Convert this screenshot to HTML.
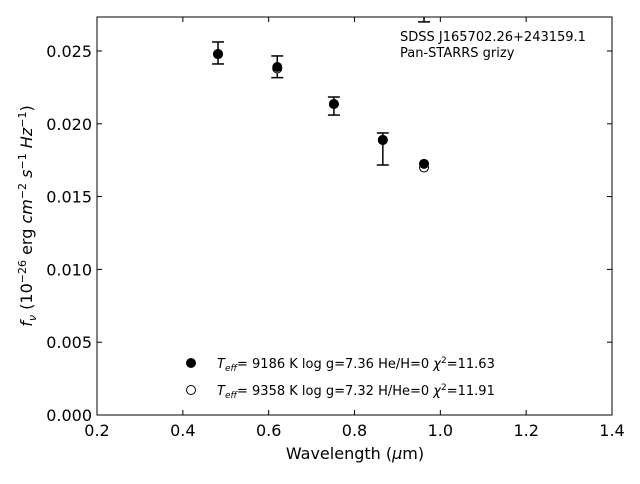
<!DOCTYPE html>
<html><head><meta charset="utf-8"><style>
body{margin:0;background:#fff;font-family:"DejaVu Sans","Liberation Sans",sans-serif}
</style></head><body>
<svg id="c" width="640" height="480" xmlns="http://www.w3.org/2000/svg" font-family="DejaVu Sans, Liberation Sans, sans-serif"></svg>
<script>
const bands=[0.482,0.620,0.752,0.866,0.962];
const obsLow=[0.02411,0.02317,0.02060,0.01717,0.02700];
const obsHigh=[0.02562,0.02466,0.02184,0.01937,0.02900];
const modelHe=[0.02479,0.02390,0.02136,0.01889,0.01725];
const modelH=[0.02479,0.02380,0.02136,0.01889,0.01700];
const xTicks=[0.2,0.4,0.6,0.8,1.0,1.2,1.4];
const yTicks=[0,0.005,0.010,0.015,0.020,0.025];
const L=97,R=612,T=17,B=415;
const X=v=>L+(v-0.2)/1.2*(R-L);
const Y=v=>B-v*14560;
const s=document.getElementById('c');
const NS='http://www.w3.org/2000/svg';
function mk(t,a,p){const e=document.createElementNS(NS,t);for(const k in a)e.setAttribute(k,a[k]);(p||s).appendChild(e);return e;}
const defs=mk('defs',{});const cp=mk('clipPath',{id:'cl'},defs);mk('rect',{x:L,y:T,width:R-L,height:B-T},cp);
const g=mk('g',{'clip-path':'url(#cl)'});
bands.forEach((b,i)=>{
 const x=X(b),y1=Y(obsLow[i]),y2=Y(obsHigh[i]);
 const e=mk('g',{},g);
 
 
 mk('line',{x1:x,x2:x,y1:y1,y2:y2,stroke:'#000','stroke-width':1.5},e);
 mk('line',{x1:x-6,x2:x+6,y1:y1,y2:y1,stroke:'#000','stroke-width':1.5},e);
 mk('line',{x1:x-6,x2:x+6,y1:y2,y2:y2,stroke:'#000','stroke-width':1.5},e);
});
bands.forEach((b,i)=>{
 const o=mk('circle',{cx:X(b),cy:Y(modelH[i]),r:4.5,fill:'#fff',stroke:'#000','stroke-width':1},g);
 
 
 const f=mk('circle',{cx:X(b),cy:Y(modelHe[i]),r:5,fill:'#000'},g);
 
 
});
const fr=mk('rect',{x:L,y:T,width:R-L,height:B-T,fill:'none',stroke:'#000','stroke-width':1});

xTicks.forEach(v=>{const x=X(v);
 mk('line',{x1:x,x2:x,y1:B,y2:B-5,stroke:'#000'});mk('line',{x1:x,x2:x,y1:T,y2:T+5,stroke:'#000'});
 const t=mk('text',{x:x,y:B+21,'text-anchor':'middle','font-size':16});t.textContent=v.toFixed(1);
 });
yTicks.forEach(v=>{const y=Y(v);
 mk('line',{x1:L,x2:L+5,y1:y,y2:y,stroke:'#000'});mk('line',{x1:R,x2:R-5,y1:y,y2:y,stroke:'#000'});
 const t=mk('text',{x:L-5,y:y+6,'text-anchor':'end','font-size':16});t.textContent=v.toFixed(3);
 });
</script>
<svg width="640" height="480" style="position:absolute;left:0;top:0" font-family="DejaVu Sans, Liberation Sans, sans-serif">
<text x="355" y="459" text-anchor="middle" font-size="16">Wavelength (<tspan font-style="italic">μ</tspan>m)</text>
<text transform="translate(32,216) rotate(-90)" text-anchor="middle" font-size="16"><tspan font-style="italic">f<tspan font-size="11" dy="4">ν</tspan></tspan><tspan dy="-4"> (10</tspan><tspan font-size="11" dy="-6">−26</tspan><tspan dy="6"> erg </tspan><tspan font-style="italic">cm</tspan><tspan font-size="11" dy="-6">−2</tspan><tspan dy="6"> </tspan><tspan font-style="italic">s</tspan><tspan font-size="11" dy="-6">−1</tspan><tspan dy="6"> </tspan><tspan font-style="italic">Hz</tspan><tspan font-size="11" dy="-6">−1</tspan><tspan dy="6">)</tspan></text>
<text x="400" y="41" font-size="13">SDSS J165702.26+243159.1</text>
<text x="400" y="57" font-size="13">Pan-STARRS grizy</text>
<g font-size="13">
<circle cx="191" cy="363" r="5" fill="#000"/>
<text x="217" y="368"><tspan font-style="italic">T<tspan font-size="9" dy="3">eff</tspan></tspan><tspan dy="-3">=  9186 K  log g=7.36  He/H=0  </tspan><tspan font-style="italic">χ</tspan><tspan font-size="9" dy="-5">2</tspan><tspan dy="5">=11.63</tspan></text>
<circle cx="191" cy="390" r="4.5" fill="#fff" stroke="#000"/>
<text x="217" y="395"><tspan font-style="italic">T<tspan font-size="9" dy="3">eff</tspan></tspan><tspan dy="-3">=  9358 K  log g=7.32  H/He=0  </tspan><tspan font-style="italic">χ</tspan><tspan font-size="9" dy="-5">2</tspan><tspan dy="5">=11.91</tspan></text>
</g>
</svg>
</body></html>
